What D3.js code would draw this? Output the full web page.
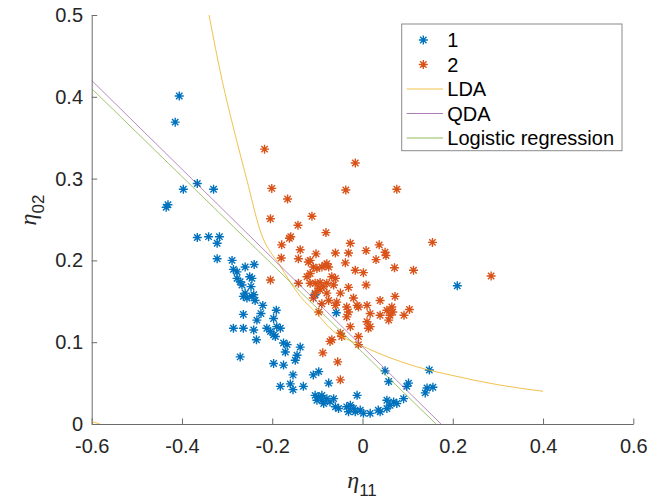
<!DOCTYPE html>
<html><head><meta charset="utf-8">
<script src="https://cdn.jsdelivr.net/npm/d3@7"></script>
<style>body{margin:0;background:#fff}svg{display:block}</style>
</head><body><svg id="c" width="662" height="502"></svg>
<script>
const xTicks = [-0.6,-0.4,-0.2,0,0.2,0.4,0.6];
const xTickLabels = ["-0.6","-0.4","-0.2","0","0.2","0.4","0.6"];
const yTicks = [0,0.1,0.2,0.3,0.4,0.5];
const yTickLabels = ["0","0.1","0.2","0.3","0.4","0.5"];
const seriesNames = ["1","2","LDA","QDA","Logistic regression"];

const class1 = [[-0.406,0.401],[-0.415,0.369],[-0.397,0.287],[-0.366,0.294],[-0.330,0.287],[-0.435,0.265],[-0.431,0.268],[-0.366,0.228],[-0.341,0.229],[-0.317,0.229],[-0.322,0.221],[-0.322,0.202],[-0.289,0.200],[-0.286,0.189],[-0.278,0.186],[-0.260,0.192],[-0.240,0.195],[-0.278,0.178],[-0.271,0.174],[-0.267,0.170],[-0.250,0.180],[-0.245,0.178],[-0.247,0.168],[-0.260,0.160],[-0.264,0.156],[-0.256,0.154],[-0.245,0.156],[-0.238,0.151],[-0.241,0.158],[-0.221,0.145],[-0.264,0.134],[-0.225,0.135],[-0.191,0.139],[-0.197,0.129],[-0.234,0.127],[-0.105,0.158],[-0.058,0.136],[-0.286,0.117],[-0.264,0.117],[-0.241,0.115],[-0.212,0.117],[-0.182,0.117],[-0.235,0.103],[-0.204,0.113],[-0.197,0.109],[-0.190,0.119],[-0.193,0.107],[-0.175,0.099],[-0.167,0.097],[-0.171,0.088],[-0.138,0.094],[-0.145,0.084],[-0.149,0.078],[-0.197,0.074],[-0.175,0.072],[-0.154,0.060],[-0.182,0.046],[-0.160,0.049],[-0.154,0.042],[-0.131,0.046],[-0.109,0.060],[-0.097,0.064],[-0.075,0.050],[-0.105,0.035],[-0.097,0.033],[-0.090,0.035],[-0.101,0.029],[-0.090,0.029],[-0.079,0.031],[-0.064,0.031],[-0.086,0.025],[-0.072,0.027],[-0.060,0.021],[-0.053,0.019],[-0.012,0.035],[-0.035,0.021],[-0.027,0.023],[-0.020,0.019],[-0.031,0.015],[-0.016,0.015],[-0.005,0.017],[0.002,0.013],[0.017,0.013],[0.035,0.017],[0.039,0.015],[0.054,0.019],[0.061,0.023],[0.069,0.027],[0.076,0.025],[0.054,0.029],[0.091,0.031],[0.050,0.065],[0.058,0.052],[0.102,0.050],[0.098,0.046],[0.143,0.044],[0.156,0.045],[0.139,0.038],[0.148,0.066],[0.210,0.169],[-0.271,0.082]];

const class2 = [[-0.217,0.336],[-0.016,0.319],[0.076,0.287],[-0.037,0.286],[-0.201,0.288],[-0.166,0.275],[-0.204,0.251],[-0.112,0.254],[-0.143,0.243],[-0.081,0.234],[-0.162,0.227],[-0.159,0.229],[-0.179,0.219],[-0.138,0.213],[-0.180,0.203],[-0.142,0.202],[-0.120,0.198],[-0.116,0.200],[-0.103,0.208],[-0.060,0.209],[-0.027,0.221],[-0.031,0.209],[0.008,0.212],[0.037,0.219],[0.050,0.210],[0.052,0.206],[0.030,0.201],[0.071,0.191],[-0.038,0.197],[-0.109,0.192],[-0.101,0.190],[-0.090,0.192],[-0.083,0.194],[-0.075,0.192],[-0.079,0.196],[-0.016,0.188],[0.002,0.185],[-0.123,0.180],[-0.116,0.184],[-0.068,0.180],[-0.060,0.178],[-0.064,0.170],[-0.204,0.176],[-0.105,0.172],[-0.094,0.173],[-0.086,0.168],[-0.097,0.166],[-0.142,0.172],[-0.031,0.167],[0.008,0.170],[-0.079,0.160],[-0.075,0.151],[-0.049,0.160],[-0.020,0.154],[-0.012,0.145],[-0.009,0.143],[0.039,0.151],[0.072,0.156],[0.054,0.139],[0.065,0.143],[0.067,0.137],[0.010,0.145],[-0.090,0.147],[-0.060,0.145],[-0.057,0.149],[-0.035,0.143],[-0.031,0.137],[-0.035,0.131],[-0.097,0.137],[0.017,0.135],[0.039,0.133],[0.058,0.127],[0.010,0.125],[-0.027,0.119],[0.017,0.119],[0.155,0.222],[0.285,0.181],[0.113,0.188],[0.104,0.140],[0.092,0.133],[0.061,0.133],[-0.116,0.172],[-0.079,0.172],[-0.094,0.164],[-0.105,0.160],[-0.109,0.154],[-0.049,0.111],[-0.046,0.107],[-0.068,0.103],[-0.072,0.101],[-0.009,0.107],[-0.009,0.097],[-0.088,0.087],[-0.055,0.076],[-0.049,0.054],[0.013,0.117]];

const ldaX = [-0.340,-0.311,-0.285,-0.256,-0.227,-0.182,-0.138,-0.101,-0.072,-0.005,0.047,0.120,0.194,0.300,0.400];
const ldaY = [0.500,0.420,0.360,0.298,0.237,0.193,0.156,0.135,0.117,0.0965,0.084,0.070,0.060,0.048,0.040];
const ldaX2 = [-0.600,-0.582];
const ldaY2 = [0.003,0.000];
const qdaX = [-0.600,0.174];
const qdaY = [0.420,0.000];
const logX = [-0.600,0.163];
const logY = [0.410,0.000];

const colors = ["#0072BD","#D95319","#EDB120","#7E2F8E","#77AC30"];
const FONT = "'Liberation Sans', Arial, Helvetica, sans-serif";

const svg = d3.select("#c");
const L = 91.7, R = 633.3, T = 15, B = 424;
const x = d3.scaleLinear().domain([-0.6,0.6]).range([L,R]);
const y = d3.scaleLinear().domain([0,0.5]).range([B,T]);

svg.append("defs").append("clipPath").attr("id","clip")
  .append("rect").attr("x",L).attr("y",T).attr("width",R-L).attr("height",B-T);

const star = "M-4.5,0H4.5M0,-4.5V4.5M-3.2,-3.2L3.2,3.2M-3.2,3.2L3.2,-3.2";

// axes
const xAxis = svg.append("g").attr("transform",`translate(0,${B})`)
  .call(d3.axisBottom(x).tickValues(xTicks).tickFormat((d,i)=>xTickLabels[i])
    .tickSizeInner(-5.5).tickSizeOuter(0).tickPadding(14.8));
const yAxis = svg.append("g").attr("transform",`translate(${L},0)`)
  .call(d3.axisLeft(y).tickValues(yTicks).tickFormat((d,i)=>yTickLabels[i])
    .tickSizeInner(-5.5).tickSizeOuter(0).tickPadding(8.7));
[xAxis,yAxis].forEach(g=>{
  g.select(".domain").attr("stroke","#6b6b6b").attr("stroke-width",1);
  g.selectAll(".tick line").attr("stroke","#6b6b6b").attr("stroke-width",1);
  g.selectAll(".tick text").attr("fill","#262626").style("font-family",FONT).style("font-size","20px");
});

const plot = svg.append("g").attr("clip-path","url(#clip)");

function drawStars(data,color){
  plot.append("g").selectAll("path").data(data).join("path")
    .attr("d",star).attr("transform",d=>`translate(${x(d[0])},${y(d[1])})`)
    .attr("fill","none").attr("stroke",color).attr("stroke-width",1.4);
}
drawStars(class1,colors[0]);
drawStars(class2,colors[1]);

const zip = (a,b)=>a.map((v,i)=>[v,b[i]]);
const straight = d3.line().x(d=>x(d[0])).y(d=>y(d[1]));
const smooth = d3.line().x(d=>x(d[0])).y(d=>y(d[1])).curve(d3.curveMonotoneX);
plot.append("path").datum(zip(ldaX,ldaY)).attr("d",smooth)
  .attr("fill","none").attr("stroke",colors[2]).attr("stroke-width",0.8);
plot.append("path").datum(zip(ldaX2,ldaY2)).attr("d",straight)
  .attr("fill","none").attr("stroke",colors[2]).attr("stroke-width",0.8);
plot.append("path").datum(zip(qdaX,qdaY)).attr("d",straight)
  .attr("fill","none").attr("stroke",colors[3]).attr("stroke-width",0.7).attr("stroke-opacity",0.8);
plot.append("path").datum(zip(logX,logY)).attr("d",straight)
  .attr("fill","none").attr("stroke",colors[4]).attr("stroke-width",0.7);

// axis titles
const xt = svg.append("text").attr("x",362).attr("y",488).attr("text-anchor","middle").attr("fill","#262626");
xt.append("tspan").text("η").style("font-family","'Liberation Serif','Times New Roman',serif").style("font-style","italic").style("font-size","24px");
xt.append("tspan").text("11").attr("dy",8).style("font-family",FONT).style("font-size","17px");

const yt = svg.append("text").attr("transform","translate(36,210) rotate(-90)").attr("text-anchor","middle").attr("fill","#262626");
yt.append("tspan").text("η").style("font-family","'Liberation Serif','Times New Roman',serif").style("font-style","italic").style("font-size","24px");
yt.append("tspan").text("02").attr("dy",8).style("font-family",FONT).style("font-size","17px");

// legend
const lg = svg.append("g");
lg.append("rect").attr("x",401.7).attr("y",24).attr("width",220.3).attr("height",126.7)
  .attr("fill","#fff").attr("stroke","#8a8a8a").attr("stroke-width",1);
const rowY = [40,64.5,89,113.5,138];
seriesNames.forEach((name,i)=>{
  if(i<2){
    lg.append("path").attr("d",star).attr("transform",`translate(423.3,${rowY[i]})`)
      .attr("fill","none").attr("stroke",colors[i]).attr("stroke-width",1.4);
  } else {
    lg.append("line").attr("x1",406.7).attr("x2",443).attr("y1",rowY[i]).attr("y2",rowY[i])
      .attr("stroke",colors[i]).attr("stroke-width",0.8).attr("stroke-opacity",i===3?0.8:1);
  }
  lg.append("text").attr("x",447.3).attr("y",rowY[i]+7.2).text(name)
    .attr("fill","#000").style("font-family",FONT).style("font-size","20px");
});
</script></body></html>
